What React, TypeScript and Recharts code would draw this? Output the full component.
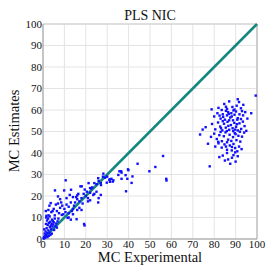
import React from 'react'
import {
  ScatterChart, Scatter, XAxis, YAxis, CartesianGrid, ReferenceLine,
} from 'recharts'

// ─── Datos ────────────────────────────────────────────────────────────────────

const TICKS = [0, 10, 20, 30, 40, 50, 60, 70, 80, 90, 100]

// racimo bajo (0–60 experimental)
const lowX = [
  0.5, 0.8, 1, 1.2, 1.5, 1.7, 2, 2.2, 2.5, 2.7, 3, 3.2, 3.4, 3.6, 3.8, 4, 4.2, 4.4, 4.6, 4.8,
  5, 5.2, 5.5, 1.4, 2.4, 0.6, 1.9, 3.1, 2.8, 4.1, 5.8, 6.2, 6.5, 0.3, 1.1, 2.1, 3.5, 2.6, 1.6, 3.9,
  1.3, 1.5, 2.5, 3.6, 3, 5, 6, 7, 8, 9, 6.5, 4.5, 8.5, 10, 11, 12, 13, 10.5, 9.5, 12,
  14, 7.5, 5.5, 5.6, 9.9, 13.1, 10.6, 12.5, 14, 16, 11, 8, 7, 15, 16, 17, 18, 18.5, 19, 20,
  20.5, 21, 22, 22.5, 19.5, 17.5, 16.5, 15.5, 14.5, 13.5, 16, 12, 14, 17, 18, 13, 15.7, 19.2, 19.4, 23,
  24, 25, 26, 27, 28, 25, 23.5, 22, 21, 26, 27, 24, 29, 30, 31, 32, 25.8, 21.3, 22, 18.1,
  25.8, 28.2, 31.3, 32.9, 36.5, 39.9, 38.8, 35.7, 35.2, 36.7, 38.6, 39.4, 41.8, 36.7, 41.4, 32.6, 31.3, 29.8, 27.1, 39.7,
  44.2, 49.7, 52.5, 56.1, 57.6, 57.7, 7.2, 8.8, 11.5, 6.8,
]
const lowY = [
  1, 2.5, 0.5, 3.5, 1.8, 5, 2.8, 6.5, 4, 7.5, 3, 5.5, 8, 6.2, 4.5, 7, 9, 5.8, 8.3, 6.8,
  7.8, 4.2, 9.5, 7, 9.5, 4.5, 8.6, 10.5, 1.5, 2.5, 6, 7.2, 5.3, 0.2, 1.3, 0.9, 2, 11, 10.8, 12.5,
  13, 10, 13.5, 16.7, 15.5, 14, 16, 16.5, 14.5, 15.5, 13, 13, 17, 14, 16, 15, 17, 12.5, 11.5, 12,
  14, 12, 11, 22.6, 22.6, 22.9, 27.3, 20.5, 19.5, 20.3, 19, 18.5, 19.8, 17, 18.5, 17.5, 19, 16.5, 21, 20,
  22, 19, 21.5, 23.5, 23, 24.5, 21, 19.5, 15.5, 13, 13.5, 10, 11.5, 14.5, 13.5, 9, 9.2, 7, 6.3, 24,
  26, 25.5, 27, 26, 29, 22, 20.5, 18, 17.5, 19, 20.5, 21, 28.5, 29, 27.5, 28, 17, 26, 23.7, 24.5,
  28.3, 30.4, 26.6, 27.3, 31.5, 32, 22.2, 31.5, 29.8, 30.9, 29.7, 28, 29.1, 28, 26.1, 26.7, 27.8, 26.2, 25.1, 32.4,
  35, 31.5, 33.5, 38.6, 28, 27.2, 9.5, 11.2, 9.8, 8.2,
]

// racimo alto (73–100 experimental)
const highX = [
  78.8, 84.7, 91.6, 88.5, 93.6, 86, 89.5, 90.5, 87, 85.5, 92.5, 82, 97.3, 99.4, 91, 83.5,
  80, 81.5, 83, 84, 85, 86, 86.5, 87.5, 88, 88.8, 89.5, 90.2, 91, 91.8, 92.5, 93.5, 94.5, 95.5, 87, 85.5,
  84.2, 90.8, 82.5, 89, 86.8, 93, 88.2,
  76, 79, 80.5, 81.8, 82.8, 83.8, 84.6, 85.4, 86.2, 87, 87.8, 88.6, 89.4, 90.2, 91, 91.8, 92.6, 93.4,
  94.2, 95, 86.6, 88.9, 84, 90.6, 83.2, 89.8, 85.9,
  73.4, 74.6, 78.5, 80, 81.2, 82.4, 83.6, 84.5, 85.3, 86.5, 87.2, 88, 88.8, 89.6, 90.4, 91.3, 92.2, 93,
  94, 86, 83, 90, 92, 81.9,
  77.1, 80.5, 82, 83.5, 84.8, 86, 87.3, 88.2, 89, 89.8, 90.8, 91.6, 92.8, 86, 89.8, 88.3, 85.5,
  77.9, 82.4, 88.3, 84, 86.5, 89, 90, 87.5, 91, 85,
]
const highY = [
  60.3, 62.8, 63.7, 61.4, 62.4, 60.5, 60.2, 62, 64, 61.5, 60.8, 61, 58.5, 66.7, 65, 60,
  57, 58.5, 56, 58, 55.5, 57.5, 59, 56.5, 58.5, 55.2, 57.8, 59.3, 56.2, 58, 55.8, 57.5, 59, 56, 55.2, 59.6,
  56.8, 55.5, 57.4, 59.8, 58.2, 59.5, 57,
  52, 53.5, 51, 54.2, 52.3, 50.5, 53.6, 51.8, 54.5, 50.8, 53, 51.5, 54, 52.2, 50.5, 53.8, 51.2, 54.6,
  52.5, 50.3, 52.6, 50.2, 54.8, 53.4, 51.5, 50.9, 50.2,
  48.6, 50.9, 47.5, 49, 46.5, 48.3, 45.5, 47.8, 49.6, 46.2, 48.5, 45.6, 47.4, 49.2, 46, 48, 45.3, 47.6,
  49.5, 45, 49.8, 48.8, 49.9, 45.2,
  44.3, 43, 44.5, 42.5, 44, 41.5, 43.5, 41.2, 44.2, 42.3, 40.8, 43, 41.8, 40, 40.3, 42.8, 43,
  33.8, 38.1, 37.8, 38.8, 37, 39, 36, 35, 38.5, 36.5,
]

const puntos = [
  ...lowX.map((x, i) => ({ x, y: lowY[i] })),
  ...highX.map((x, i) => ({ x, y: highY[i] })),
]

// ─── Estilos ──────────────────────────────────────────────────────────────────

const FONT = '"Liberation Serif", "DejaVu Serif", serif'
const TICK = { fill: '#111', fontSize: 11, fontFamily: FONT }

function Cuadrado(props: { cx?: number; cy?: number }) {
  const { cx = 0, cy = 0 } = props
  return <rect x={cx - 1.2} y={cy - 1.2} width={2.4} height={2.4} fill="#1010ff" />
}

export default function App() {
  return (
    <div style={{ position: 'absolute', left: 0, top: 0, width: 277, height: 277, background: '#fff', fontFamily: FONT }}>
      <div style={{ position: 'absolute', left: 43, width: 214, top: 8, lineHeight: '15px', textAlign: 'center', fontSize: 14, color: '#111' }}>
        PLS NIC
      </div>
      <div style={{ position: 'absolute', left: 43, width: 214, top: 250, lineHeight: '15px', textAlign: 'center', fontSize: 14.5, color: '#111' }}>
        MC Experimental
      </div>
      <div
        style={{
          position: 'absolute', left: 14, top: 131, fontSize: 14.5, lineHeight: '15px', color: '#111', whiteSpace: 'nowrap',
          transform: 'translate(-50%, -50%) rotate(-90deg)',
        }}
      >
        MC Estimates
      </div>
      <ScatterChart width={277} height={277} margin={{ top: 24, right: 20, bottom: 0, left: 0 }}>
        <CartesianGrid stroke="#e4e4e4" strokeWidth={1} />
        <XAxis
          type="number" dataKey="x" domain={[0, 100]} ticks={TICKS} interval={0}
          height={38} tick={TICK} tickSize={0} tickMargin={1}
          axisLine={{ stroke: '#999' }}
        />
        <YAxis
          type="number" dataKey="y" domain={[0, 100]} ticks={TICKS} interval={0}
          width={43} tick={TICK} tickSize={0} tickMargin={1}
          axisLine={{ stroke: '#999' }}
        />
        <ReferenceLine x={100} stroke="#aaa" />
        <ReferenceLine y={100} stroke="#ccc" />
        <Scatter data={puntos} shape={<Cuadrado />} isAnimationActive={false} />
        <ReferenceLine
          segment={[{ x: 0, y: 0 }, { x: 100, y: 100 }]}
          stroke="#15877e" strokeWidth={2.5}
        />
      </ScatterChart>
    </div>
  )
}
